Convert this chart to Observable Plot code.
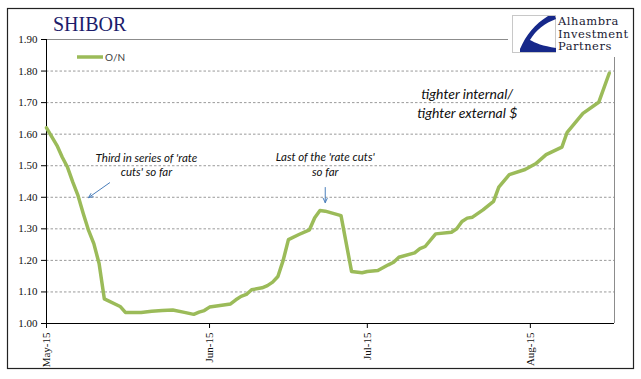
<!DOCTYPE html>
<html>
<head>
<meta charset="utf-8">
<script src="https://cdn.jsdelivr.net/npm/d3@7"></script>
<script src="https://cdn.jsdelivr.net/npm/@observablehq/plot@0.6"></script>
<style>
  html, body { margin: 0; padding: 0; background: #fff; }
  #chart { width: 641px; height: 379px; position: relative; overflow: hidden; }
</style>
</head>
<body>
<div id="chart"></div>
<script>
// ---- data ----
const dates = [
  "2015-05-01","2015-05-03","2015-05-04","2015-05-05","2015-05-06","2015-05-07","2015-05-08","2015-05-09",
  "2015-05-10","2015-05-11","2015-05-12","2015-05-15","2015-05-16","2015-05-19","2015-05-21","2015-05-23",
  "2015-05-25","2015-05-27","2015-05-29","2015-05-30","2015-05-31","2015-06-01","2015-06-03","2015-06-05",
  "2015-06-06","2015-06-07","2015-06-08","2015-06-09","2015-06-11","2015-06-12","2015-06-13","2015-06-14",
  "2015-06-15","2015-06-16","2015-06-18","2015-06-20","2015-06-21","2015-06-22","2015-06-23","2015-06-26",
  "2015-06-28","2015-06-30","2015-07-01","2015-07-03","2015-07-05","2015-07-06","2015-07-07","2015-07-10",
  "2015-07-11","2015-07-12","2015-07-14","2015-07-17","2015-07-18","2015-07-19","2015-07-20","2015-07-21",
  "2015-07-23","2015-07-25","2015-07-26","2015-07-28","2015-07-31","2015-08-02","2015-08-04","2015-08-07",
  "2015-08-08","2015-08-11","2015-08-14","2015-08-16"
];
const onValues = [
  1.620,1.564,1.527,1.495,1.448,1.405,1.348,1.295,
  1.253,1.190,1.078,1.054,1.035,1.035,1.039,1.041,
  1.043,1.036,1.029,1.036,1.041,1.052,1.057,1.062,
  1.075,1.086,1.092,1.107,1.113,1.120,1.131,1.149,
  1.200,1.266,1.282,1.297,1.335,1.358,1.356,1.342,
  1.165,1.161,1.165,1.168,1.186,1.194,1.210,1.224,
  1.237,1.244,1.284,1.289,1.300,1.323,1.334,1.337,
  1.360,1.387,1.432,1.472,1.488,1.506,1.535,1.559,
  1.606,1.666,1.701,1.793
];
const seriesName = "O/N";
const chartTitle = "SHIBOR";
const yTicks = [1.00,1.10,1.20,1.30,1.40,1.50,1.60,1.70,1.80,1.90];
const xTicks = ["2015-05-01","2015-06-01","2015-07-01","2015-08-01"];
const xDomain = ["2015-05-01","2015-08-17"];
const annotationLines = [
  {date: "2015-05-20", value: 1.511, text: "Third in series of 'rate"},
  {date: "2015-05-20", value: 1.466, text: "cuts' so far"},
  {date: "2015-06-23", value: 1.514, text: "Last of the 'rate cuts'"},
  {date: "2015-06-23", value: 1.469, text: "so far"}
];
const bigAnnotationLines = [
  {date: "2015-07-20", value: 1.712, text: "tighter internal/"},
  {date: "2015-07-20", value: 1.652, text: "tighter external $"}
];
const arrows = [
  {d1: "2015-05-13", v1: 1.446, d2: "2015-05-09", v2: 1.399},
  {d1: "2015-06-23", v1: 1.431, d2: "2015-06-23", v2: 1.383}
];
const logoLines = ["Alhambra", "Investment", "Partners"];

// ---- build ----
const data = dates.map((d, i) => ({date: new Date(d), value: onValues[i]}));
const ann = annotationLines.map(a => ({...a, date: new Date(a.date)}));
const bigAnn = bigAnnotationLines.map(a => ({...a, date: new Date(a.date)}));
const arr = arrows.map(a => ({x1: new Date(a.d1), y1: a.v1, x2: new Date(a.d2), y2: a.v2}));
const xStart = new Date(xDomain[0]), xEnd = new Date(xDomain[1]);

const green = "#9bbb59";
const serif = "'Liberation Serif', 'Times New Roman', serif";
const calibri = "Lato, 'Open Sans', sans-serif";

const chart = Plot.plot({
  width: 641,
  height: 379,
  marginLeft: 46,
  marginRight: 27,
  marginTop: 39,
  marginBottom: 56,
  style: {fontFamily: serif, fontSize: "11px", color: "#111", background: "transparent"},
  x: {type: "utc", domain: [xStart, xEnd]},
  y: {domain: [1.0, 1.9]},
  marks: [
    Plot.gridY(yTicks.filter(t => t > 1.0 && t < 1.9), {stroke: "#9a9a9a", strokeOpacity: 1, strokeDasharray: "2.5,2"}),
    Plot.ruleY([1.9], {stroke: "#8c8c8c"}),
    Plot.ruleX([xEnd], {stroke: "#8c8c8c"}),
    Plot.ruleY([1.0], {stroke: "#000"}),
    Plot.ruleX([xStart], {stroke: "#000"}),
    Plot.axisY({ticks: yTicks, tickFormat: d => d.toFixed(2), tickSize: 5, tickPadding: 4, stroke: "#000", fill: "#111", fontSize: 11}),
    Plot.axisX({ticks: xTicks.map(d => new Date(d)), tickFormat: d3.utcFormat("%b-%y"), tickRotate: -90, tickSize: 5, tickPadding: 4, stroke: "#000", fill: "#111", fontSize: 11}),
    Plot.line(data, {x: "date", y: "value", stroke: green, strokeWidth: 3.5, strokeLinejoin: "round", strokeLinecap: "round"}),
    Plot.arrow(arr, {x1: "x1", y1: "y1", x2: "x2", y2: "y2", stroke: "#4a7ebb", strokeWidth: 1, headLength: 7, headAngle: 50}),
    Plot.text(ann, {x: "date", y: "value", text: "text", fontFamily: calibri, fontStyle: "italic", fontSize: 11.5, fill: "#111", textAnchor: "middle", lineAnchor: "bottom"}),
    Plot.text(bigAnn, {x: "date", y: "value", text: "text", fontFamily: calibri, fontStyle: "italic", fontSize: 14, fill: "#111", textAnchor: "middle", lineAnchor: "bottom"})
  ]
});
document.getElementById("chart").appendChild(chart);

// ---- decorations: frame, title, legend, logo ----
const svg = d3.select(chart);
svg.append("rect").attr("x", 7.5).attr("y", 8.5).attr("width", 626).attr("height", 360)
  .attr("fill", "none").attr("stroke", "#222").attr("stroke-width", 1.2);
svg.append("text").attr("x", 53).attr("y", 31).attr("text-anchor", "start").text(chartTitle)
  .attr("font-family", serif).attr("font-size", 20).attr("fill", "#1c1c6b");
svg.append("line").attr("x1", 77).attr("x2", 103).attr("y1", 57).attr("y2", 57)
  .attr("stroke", green).attr("stroke-width", 3.5);
svg.append("text").attr("x", 105).attr("y", 60.5).attr("text-anchor", "start").text(seriesName)
  .attr("font-family", calibri).attr("font-size", 10).attr("fill", "#404040");

const logo = svg.append("g");
logo.append("rect").attr("x", 508).attr("y", 12).attr("width", 124).attr("height", 45).attr("fill", "#fff");
const mark = logo.append("g").attr("transform", "translate(512,15)");
mark.append("rect").attr("x", 0.5).attr("y", 0.5).attr("width", 43).attr("height", 37)
  .attr("fill", "#fff").attr("stroke", "#c8c8c8");
mark.append("path")
  .attr("d", "M43,1 L36,1 C23,9 14,20 8,34 L8,37 L44,37 L44,33 C31,31 23,28 18,25 C24,15 33,8 44,4 Z")
  .attr("fill", "#16288a");
logo.selectAll("text.logo").data(logoLines).join("text").attr("class", "logo")
  .attr("x", 558).attr("y", (d, i) => 25 + i * 12.5).attr("text-anchor", "start").text(d => d)
  .attr("font-family", "'DejaVu Serif', serif").attr("font-size", 11.5).attr("letter-spacing", 0.5)
  .attr("fill", "#1a1a33");
</script>
</body>
</html>
